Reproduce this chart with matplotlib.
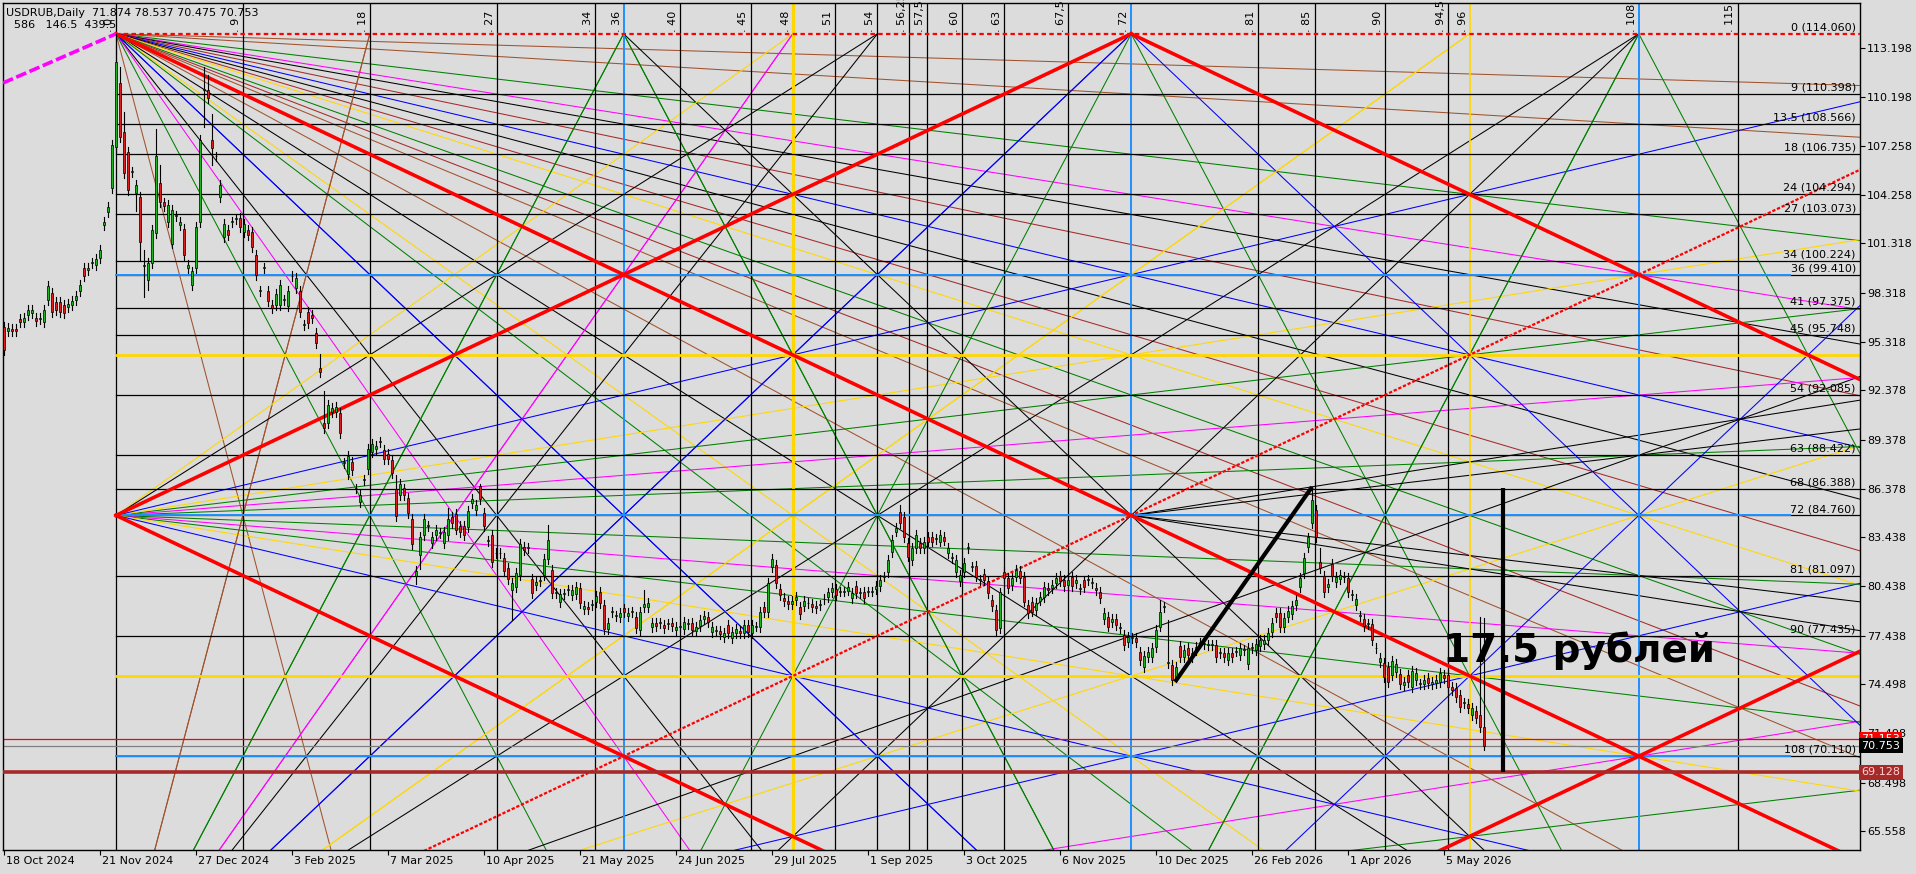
import matplotlib.pyplot as plt

# ---- candles (bar index 0 = 18 Oct 2024) ----
opens = [
    96.2, 95.95, 96.1, 96.1, 96.7, 96.5, 96.95, 97.05, 96.8, 96.7,
    96.55, 97.85, 98.27, 97.75, 97.76, 97.56, 97.45, 97.55, 97.86, 98.4,
    99.8, 99.7, 100.1, 100.0, 100.4, 102.4, 103.2, 104.66, 107.2, 111.05,
    108.1, 106.9, 105.67, 104.35, 104.15, 99.93, 99.08, 100.1, 101.92, 105.0,
    103.8, 102.6, 101.3, 103.0, 102.4, 102.2, 99.8, 98.78, 99.8, 102.6,
    110.64, 110.64, 107.6, 106.6, 104.15, 101.7, 102.1, 102.63, 102.8, 102.83,
    102.0, 102.1, 102.0, 100.6, 98.4, 99.8, 98.4, 97.56, 97.56, 97.56,
    97.86, 97.5, 99.3, 98.6, 98.4, 96.35, 97.16, 96.95, 95.84, 93.75,
    90.4, 90.36, 91.07, 91.07, 90.97, 87.93, 87.3, 88.0, 86.4, 85.6,
    86.9, 87.6, 88.6, 88.8, 89.25, 88.74, 88.5, 88.13, 86.35, 86.0,
    86.4, 85.8, 84.52, 81.08, 82.35, 83.57, 84.1, 83.06, 83.57, 83.7,
    83.1, 83.57, 84.64, 84.85, 84.1, 84.1, 84.08, 85.54, 85.09, 86.55,
    84.89, 83.2, 83.57, 82.45, 82.45, 82.15, 81.54, 80.22, 80.43, 81.14,
    82.86, 82.76, 80.87, 80.53, 80.77, 81.14, 82.09, 81.44, 80.02, 79.51,
    79.98, 80.22, 79.92, 79.98, 80.33, 79.07, 79.21, 79.29, 79.51, 80.08,
    79.31, 77.83, 78.9, 78.66, 78.56, 79.1, 78.64, 78.9, 78.6, 77.8,
    79.21, 79.21, 77.95, 78.2, 78.2, 78.1, 78.15, 78.2, 77.79, 78.0,
    77.83, 78.15, 78.2, 77.75, 78.05, 78.44, 78.6, 77.69, 77.75, 77.75,
    77.34, 78.1, 77.28, 77.59, 77.75, 77.59, 78.1, 77.59, 78.0, 77.95,
    79.21, 78.9, 81.64, 81.74, 80.28, 79.72, 79.57, 79.37, 79.61, 79.17,
    79.27, 79.41, 79.37, 79.25, 79.31, 79.65, 79.8, 80.07, 80.27, 80.13,
    80.13, 80.19, 79.72, 80.47, 80.03, 80.13, 80.13, 80.13, 80.27, 80.47,
    81.04, 81.34, 82.56, 83.78, 84.99, 84.69, 83.07, 82.05, 82.76, 83.07,
    82.76, 83.47, 83.43, 83.31, 83.17, 83.43, 82.46, 82.15, 81.34, 80.74,
    81.34, 82.76, 81.65, 81.69, 80.84, 81.2, 80.74, 79.62, 79.01, 77.9,
    81.34, 80.94, 80.53, 81.04, 81.4, 81.04, 79.31, 79.52, 79.01, 79.58,
    79.82, 80.37, 80.33, 80.63, 81.08, 80.84, 80.53, 81.0, 80.63, 80.27,
    80.8, 80.84, 80.63, 80.33, 80.13, 78.44, 78.56, 78.3, 78.44, 77.9,
    77.49, 77.08, 77.29, 77.29, 76.48, 75.56, 76.17, 76.17, 76.78, 78.0,
    79.21, 75.8, 75.66, 74.75, 76.84, 76.17, 76.68, 76.17, 76.54, 76.98,
    76.94, 76.88, 76.88, 76.88, 76.37, 76.41, 75.97, 76.41, 76.48, 76.27,
    76.58, 75.73, 76.68, 76.58, 76.82, 76.94, 77.18, 77.69, 78.84, 78.8,
    77.99, 78.56, 78.76, 79.3, 80.42, 81.23, 82.82, 84.28, 85.09, 81.94,
    81.07, 80.38, 81.8, 80.73, 80.87, 81.03, 80.93, 79.92, 79.31, 78.64,
    78.44, 78.15, 78.15, 76.67, 75.86, 75.76, 75.56, 75.05, 75.25, 75.11,
    74.44, 75.05, 74.3, 74.75, 74.5, 74.5, 74.85, 74.5, 74.54, 74.65,
    75.05, 75.05, 74.34, 74.24, 73.83, 73.37, 73.29, 72.62, 72.88, 72.62,
    71.874]

closes = [
    94.8, 96.15, 95.95, 96.0, 96.5, 96.8, 97.25, 97.25, 96.6, 96.75,
    97.25, 98.7, 97.16, 97.25, 97.16, 97.05, 97.65, 97.8, 98.1, 98.8,
    99.3, 99.8, 100.15, 100.35, 100.9, 102.6, 103.5, 107.3, 112.37, 107.8,
    105.6, 104.56, 105.67, 104.86, 101.4, 99.93, 100.1, 102.1, 106.6, 103.85,
    103.6, 103.65, 103.35, 103.0, 102.6, 100.6, 100.0, 99.6, 102.3, 107.6,
    110.64, 110.13, 107.1, 106.6, 104.86, 102.5, 101.8, 102.63, 102.8, 102.33,
    102.5, 101.8, 101.07, 99.4, 98.4, 99.8, 97.8, 97.36, 98.23, 98.8,
    97.86, 98.4, 99.3, 99.2, 97.16, 96.35, 96.45, 96.75, 95.23, 93.5,
    90.06, 91.48, 91.27, 91.38, 89.75, 87.93, 88.4, 87.5, 86.4, 86.0,
    86.9, 88.8, 89.1, 89.0, 89.25, 88.17, 88.17, 87.32, 84.73, 86.65,
    86.0, 84.9, 83.02, 81.4, 83.47, 84.52, 84.1, 83.43, 83.9, 83.7,
    83.77, 84.52, 84.32, 83.9, 83.77, 83.57, 85.05, 85.74, 85.4, 85.74,
    84.12, 83.2, 81.95, 82.45, 82.45, 81.4, 80.87, 80.63, 81.24, 83.02,
    82.66, 82.76, 80.06, 80.73, 80.77, 82.09, 83.27, 80.02, 80.02, 79.98,
    79.98, 80.22, 80.22, 80.38, 79.41, 79.27, 79.05, 79.29, 79.86, 79.41,
    77.83, 78.2, 78.9, 78.66, 78.8, 78.9, 78.8, 78.9, 77.9, 78.9,
    79.37, 79.41, 78.2, 78.05, 78.2, 77.9, 78.15, 78.05, 77.95, 78.0,
    78.3, 78.15, 77.79, 77.95, 78.4, 78.64, 78.3, 77.95, 77.75, 77.55,
    77.59, 77.63, 77.69, 77.83, 77.59, 78.1, 77.69, 78.1, 78.0, 78.9,
    78.9, 80.67, 82.09, 80.67, 79.92, 79.55, 79.37, 79.55, 79.82, 78.76,
    79.57, 79.41, 79.21, 79.1, 79.31, 79.65, 80.07, 80.33, 79.92, 80.13,
    80.13, 80.43, 80.03, 80.03, 80.03, 79.72, 80.13, 80.13, 80.47, 80.84,
    81.04, 82.05, 83.27, 83.98, 84.28, 83.47, 82.26, 82.76, 83.57, 82.76,
    83.17, 83.17, 83.17, 83.31, 83.57, 83.23, 82.76, 82.15, 82.05, 81.14,
    81.89, 82.76, 81.65, 81.04, 80.84, 80.84, 80.03, 79.25, 77.79, 80.07,
    80.94, 80.33, 80.94, 81.44, 80.94, 79.52, 78.81, 78.91, 79.42, 79.82,
    80.43, 80.23, 80.53, 80.94, 80.74, 80.47, 80.84, 80.47, 80.84, 80.27,
    80.43, 80.84, 80.63, 80.23, 79.72, 78.81, 78.0, 78.44, 78.1, 77.9,
    76.88, 77.39, 77.29, 77.08, 75.97, 76.21, 76.48, 76.68, 77.79, 78.91,
    79.21, 75.8, 74.75, 75.56, 76.17, 76.58, 76.27, 76.37, 76.78, 76.98,
    76.94, 76.88, 76.88, 76.17, 76.37, 76.17, 76.37, 76.17, 76.48, 76.68,
    76.58, 76.68, 76.68, 76.94, 77.19, 77.18, 77.58, 78.23, 78.6, 77.99,
    78.5, 78.96, 79.25, 79.6, 80.93, 82.15, 83.42, 85.7, 83.47, 81.54,
    80.12, 80.59, 81.07, 80.99, 81.13, 81.03, 80.12, 79.92, 79.65, 78.64,
    78.03, 78.15, 77.18, 76.67, 76.06, 74.95, 74.65, 75.92, 75.72, 74.5,
    74.65, 74.65, 75.31, 75.15, 74.5, 74.75, 74.58, 74.65, 74.75, 75.15,
    74.85, 74.34, 74.14, 73.73, 73.12, 73.37, 73.02, 73.02, 72.41, 71.91,
    70.753]

# long wicks that stand out
high_marks = {28: 114.06, 29: 112.06, 30: 109.3, 35: 100.9, 38: 108.3, 39: 106.1,
              50: 112.06, 51: 111.55, 52: 109.2, 79: 94.6, 80: 92.3, 98: 87.2,
              111: 85.2, 119: 86.7, 136: 84.2, 160: 80.2, 224: 85.4, 289: 79.62,
              291: 78.4, 327: 86.51, 329: 82.76, 369: 78.6, 370: 78.537}
low_marks = {33: 103.3, 34: 100.3, 35: 98.07, 36: 98.5, 50: 108.4, 52: 106.1,
             103: 80.6, 104: 81.5, 127: 78.4, 291: 75.5, 293: 74.65, 370: 70.475}
WICK = 0.3

date_bars = [0, 24, 48, 72, 96, 120, 144, 168, 192, 216, 240, 264, 288, 312, 336, 360]
date_labels = ["18 Oct 2024", "21 Nov 2024", "27 Dec 2024", "3 Feb 2025", "7 Mar 2025",
               "10 Apr 2025", "21 May 2025", "24 Jun 2025", "29 Jul 2025", "1 Sep 2025",
               "3 Oct 2025", "6 Nov 2025", "10 Dec 2025", "26 Feb 2026", "1 Apr 2026",
               "5 May 2026"]

price_ticks = [113.198, 110.198, 107.258, 104.258, 101.318, 98.318, 95.318, 92.378,
               89.378, 86.378, 83.438, 80.438, 77.438, 74.498, 71.498, 68.498, 65.558]

# ---- Gann square (time units / price levels) ----
T0_BAR, BARS_PER_T = 28, 3.525
P0, P_PER_L = 114.06, 0.40694
SQ = 144

time_marks = [0, 9, 18, 27, 34, 36, 40, 45, 48, 51, 54, 56.25, 57.5, 60, 63, 67.5,
              72, 81, 85, 90, 94.5, 96, 108, 115]
time_labels = ["0", "9", "18", "27", "34", "36", "40", "45", "48", "51", "54", "56,25",
               "57,5", "60", "63", "67,5", "72", "81", "85", "90", "94,5", "96", "108", "115"]
levels = [0, 9, 13.5, 18, 24, 27, 34, 36, 41, 45, 54, 63, 68, 72, 81, 90, 108]
level_prices = [114.060, 110.398, 108.566, 106.735, 104.294, 103.073, 100.224, 99.410,
                97.375, 95.748, 92.085, 88.422, 86.388, 84.760, 81.097, 77.435, 70.110]
yellow_levels = [48, 96]

# fan from the top-left corner
top_ratios = [1/16, 1/8, 1/4, 1/3, 3/8, 7/16, 1/2, 9/16, 5/8, 2/3, 3/4, 13/16, 7/8,
              8/7, 4/3, 3/2, 8/5, 2, 8/3, 3, 4, 8]
top_colors = ['sienna', 'sienna', 'green', 'magenta', 'black', 'brown', 'blue', 'black',
              'brown', 'gold', 'green', 'brown', 'sienna', 'sienna', 'black', 'gold',
              'green', 'blue', 'black', 'magenta', 'green', 'sienna']
# fan from the bottom-left corner (rising)
low_ratios = [1/4, 1/3, 1/2, 2/3, 3/4, 4/3, 3/2, 2, 8/3, 3, 4, 8]
low_colors = ['green', 'magenta', 'blue', 'gold', 'black', 'black', 'gold', 'blue',
              'black', 'magenta', 'green', 'sienna']
mid_ratios = [1/12, 1/6, 1/4, 1/3, 1/2]
mid_colors = ['green', 'magenta', 'green', 'gold', 'blue']
# (time, side, ratio, colour) rays hanging from the top edge of the square
top_rays = [(18, -1, 8, 'sienna'), (36, -1, 4, 'green'), (36, 1, 4, 'green'),
            (36, 1, 2, 'black'), (48, -1, 1.5, 'gold'), (48, -1, 3, 'magenta'),
            (54, -1, 4/3, 'black'), (72, -1, 2, 'blue'), (72, 1, 2, 'blue'),
            (72, -1, 4, 'green'), (72, 1, 4, 'green'), (96, -1, 1.5, 'gold'),
            (108, -1, 2, 'black'), (108, -1, 4, 'green'), (108, 1, 4, 'green')]
bottom_rays = [(72, -1, 2, 'blue'), (72, 1, 2, 'blue'), (72, -1, 4, 'green'), (72, 1, 4, 'green')]
centre_rays = [(-1/3, 'black'), (-1/4, 'black'), (1/4, 'black'), (1/3, 'black')]

BG = '#DCDCDC'
GREEN = '#1FB31F'
RED = '#DC1E1E'
DBLUE = '#1E90FF'


def gx(t):
    return T0_BAR + BARS_PER_T * t


def gy(l):
    return P0 - P_PER_L * l


fig = plt.figure(figsize=(19.16, 8.74), dpi=100, facecolor=BG)
ax = fig.add_axes([3/1916, 24/874, 1857/1916, 847/874], facecolor=BG)
ax.set_xlim(-0.25, 464)
ax.set_ylim(64.403, 115.936)


def ray(t0, l0, ratio, side, color, lw=0.75, ls='-', z=2):
    t_lim = 0 if side < 0 else 130
    dt = abs(t_lim - t0)
    if ratio > 0:
        dt = min(dt, (SQ - l0) / ratio)
    elif ratio < 0:
        dt = min(dt, l0 / -ratio)
    t1, l1 = t0 + side * dt, l0 + ratio * dt
    ax.plot([gx(t0), gx(t1)], [gy(l0), gy(l1)], color=color, lw=lw, ls=ls, zorder=z)


for r, c in zip(top_ratios, top_colors):
    ray(0, 0, r, 1, c)
for r, c in zip(low_ratios, low_colors):
    ray(0, SQ, -r, 1, c)
for r, c in zip(mid_ratios, mid_colors):
    ray(0, 72, r, 1, c)
    ray(0, 72, -r, 1, c)
for t, s, r, c in top_rays:
    ray(t, 0, r, s, c)
for t, s, r, c in bottom_rays:
    ray(t, SQ, -r, s, c)
for r, c in centre_rays:
    ray(72, 72, r, 1, c)

# red diamond and diagonals
ray(0, 0, 1, 1, 'red', lw=2.6, z=3)
ray(0, 72, -1, 1, 'red', lw=2.6, z=3)
ray(0, 72, 1, 1, 'red', lw=2.6, z=3)
ray(72, 0, 1, 1, 'red', lw=2.6, z=3)
ray(72, SQ, -1, 1, 'red', lw=2.6, z=3)
ray(0, SQ, -1, 1, 'red', lw=1.6, ls=(0, (1.5, 0.8)), z=3)

# time lines
vcol = {36: DBLUE, 72: DBLUE, 108: DBLUE, 48: 'gold', 96: 'gold'}
vlw = {36: 1.4, 72: 1.4, 108: 1.4, 48: 2.2, 96: 1.2}
for t, lab in zip(time_marks, time_labels):
    x = gx(t)
    ax.axvline(x, color=vcol.get(t, 'black'), lw=vlw.get(t, 0.9), zorder=2)
    ax.annotate(". " + lab, (x, P0), xytext=(-1.5, 1), textcoords='offset points',
                rotation=90, ha='right', va='bottom', fontsize=8, zorder=6)

# price levels
for lv, p in zip(levels, level_prices):
    x0 = gx(0)
    if lv == 0:
        ax.plot([x0, 470], [p, p], color='red', lw=1.6, ls=(0, (2, 1.5)), zorder=3)
    else:
        ax.plot([x0, 470], [p, p], color='black', lw=0.9, zorder=2)
        if lv in (36, 72, 108):
            ax.plot([x0, gx(118.7)], [p, p], color=DBLUE, lw=1.4, zorder=2)
    txt = f"{lv:g} ({p:.3f})"
    ax.annotate(txt, (1.0, p), xycoords=ax.get_yaxis_transform(), xytext=(-3, 1),
                textcoords='offset points', ha='right', va='bottom', fontsize=8, zorder=6)
for lv in yellow_levels:
    ax.plot([gx(0), 470], [gy(lv)] * 2, color='gold', lw=2.0, zorder=2)

# current price lines
ax.axhline(71.153, color='red', lw=0.9, zorder=2)
ax.axhline(70.753, color='grey', lw=0.9, zorder=2)
ax.axhline(69.128, color='#A52A2A', lw=2.6, zorder=3)

# magenta dashed line into the top origin
ax.plot([-0.25, 28], [111.07, 114.06], color='magenta', lw=2.6, ls=(0, (3, 1)), zorder=3)

# candles
n = min(len(opens), len(closes))
for i in range(n):
    o, c = opens[i], closes[i]
    hi = high_marks.get(i, max(o, c) + WICK)
    lo = low_marks.get(i, min(o, c) - WICK)
    ax.plot([i, i], [lo, hi], color='black', lw=0.8, zorder=4)
    h = abs(c - o)
    ax.bar(i, max(h, 0.05), bottom=min(o, c), width=0.7,
           color=GREEN if c >= o else RED, edgecolor='black', linewidth=0.5, zorder=5)

# annotations
ax.plot([292.75, 327], [74.63, 86.49], color='black', lw=3, zorder=6, solid_capstyle='butt')
ax.plot([374.75, 374.75], [69.13, 86.4], color='black', lw=3, zorder=6, solid_capstyle='butt')
ax.text(359.75, 75.84, "17.5 рублей", fontsize=28, fontweight='bold', family='DejaVu Sans',
        ha='left', va='baseline', zorder=8)

# axes styling
for sp in ax.spines.values():
    sp.set_color('black')
    sp.set_linewidth(1)
ax.yaxis.tick_right()
ax.set_yticks(price_ticks)
ax.set_yticklabels([f"{p:.3f}" for p in price_ticks])
ax.tick_params(axis='y', direction='out', length=3.5, pad=1.5, labelsize=8, colors='black')
ax.set_xticks(date_bars)
ax.set_xticklabels([])
ax.tick_params(axis='x', direction='out', length=3.5)
for b, lab in zip(date_bars, date_labels):
    ax.annotate(lab, (b, 0), xycoords=ax.get_xaxis_transform(), xytext=(1.5, -8),
                textcoords='offset points', ha='left', va='center', fontsize=8,
                annotation_clip=False)

yt = ax.get_yaxis_transform()
for p, s, fc, tc in [(71.153, "71.153", 'red', 'white'), (70.753, "70.753", 'black', 'white'),
                     (69.128, "69.128", '#A52A2A', '#FFD0D0')]:
    ax.text(1.0008, p, s, transform=yt, ha='left', va='center', fontsize=8, color=tc,
            bbox=dict(boxstyle='square,pad=0.2', fc=fc, ec='none'), zorder=10, clip_on=False)

fig.text(6/1916, 1 - 13/874, "USDRUB,Daily  71.874 78.537 70.475 70.753", fontsize=8,
         va='center', ha='left')
fig.text(14/1916, 1 - 25/874, "586   146.5  439.5", fontsize=8, va='center', ha='left')

plt.savefig("out.png", dpi=100, facecolor=BG)
